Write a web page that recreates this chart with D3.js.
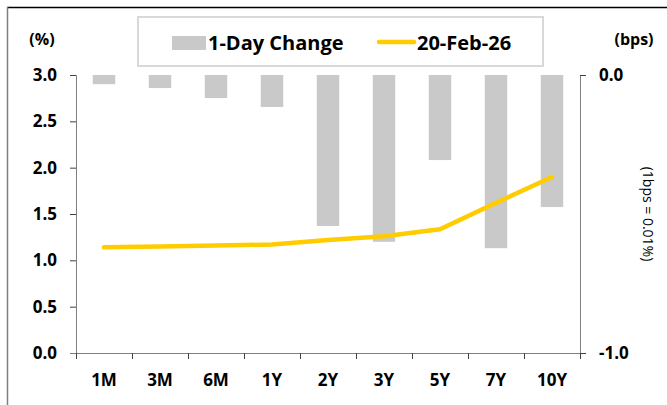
<!DOCTYPE html>
<html>
<head>
<meta charset="utf-8">
<script src="https://cdn.jsdelivr.net/npm/d3@7"></script>
<style>
  body { margin: 0; background: #fff; }
  text { font-family: "Open Sans", Lato, sans-serif; }
</style>
</head>
<body>
<div id="chart"></div>
<script>
// tenors on the x axis
var tenors = ["1M", "3M", "6M", "1Y", "2Y", "3Y", "5Y", "7Y", "10Y"];
// 1-day change, bps (right axis)
var dayChange = [-0.033, -0.047, -0.083, -0.115, -0.543, -0.60, -0.306, -0.623, -0.475];
// yield on 20-Feb-26, % (left axis)
var yields = [1.14, 1.15, 1.16, 1.17, 1.22, 1.26, 1.335, 1.62, 1.90];
var leftTicks = [0, 0.5, 1, 1.5, 2, 2.5, 3];
var rightTicks = [-1, 0];

var width = 667, height = 405;
var plot = {left: 76, right: 580, top: 75, bottom: 353};

var svg = d3.select("#chart").append("svg")
  .attr("width", width)
  .attr("height", height);

// outer frame (top and left edges only visible)
svg.append("line").attr("x1", 7).attr("x2", width).attr("y1", 7.5).attr("y2", 7.5)
  .attr("stroke", "#000").attr("stroke-width", 1.5);
svg.append("line").attr("x1", 7.5).attr("x2", 7.5).attr("y1", 7).attr("y2", height)
  .attr("stroke", "#808080").attr("stroke-width", 1.5);

var x = d3.scaleBand().domain(tenors).range([plot.left, plot.right])
  .paddingInner(0.6).paddingOuter(0.3);
var xTicks = d3.scaleLinear().domain([0, tenors.length]).range([plot.left, plot.right]);
var yL = d3.scaleLinear().domain([0, 3]).range([plot.bottom, plot.top]);
var yR = d3.scaleLinear().domain([-1, 0]).range([plot.bottom, plot.top]);

var fmt = function(d) { return d.toFixed(1); };

// bars: 1-day change (hang down from 0 on the right axis)
svg.append("g").selectAll("rect")
  .data(dayChange)
  .enter().append("rect")
  .attr("x", function(d, i) { return x(tenors[i]); })
  .attr("width", x.bandwidth())
  .attr("y", yR(0))
  .attr("height", function(d) { return yR(d) - yR(0); })
  .attr("fill", "#c9c9c9");

// line: yield curve
var line = d3.line()
  .x(function(d, i) { return x(tenors[i]) + x.bandwidth() / 2; })
  .y(function(d) { return yL(d); });

svg.append("path")
  .datum(yields)
  .attr("fill", "none")
  .attr("stroke", "#ffcc00")
  .attr("stroke-width", 4.5)
  .attr("stroke-linecap", "round")
  .attr("stroke-linejoin", "round")
  .attr("d", line);

// left axis
var gL = svg.append("g")
  .attr("transform", "translate(" + plot.left + ",0)")
  .call(d3.axisLeft(yL).tickValues(leftTicks).tickFormat(fmt).tickSize(6).tickPadding(13));

// right axis
var gR = svg.append("g")
  .attr("transform", "translate(" + plot.right + ",0)")
  .call(d3.axisRight(yR).tickValues(rightTicks).tickFormat(fmt).tickSize(6).tickPadding(13));

// bottom axis: ticks between categories
var gB = svg.append("g")
  .attr("transform", "translate(0," + plot.bottom + ")")
  .call(d3.axisBottom(xTicks).ticks(tenors.length).tickFormat("").tickSize(6));
gB.select(".domain").attr("d", "M" + (plot.left - 6) + ",0.5H" + plot.right);

var gBL = svg.append("g")
  .attr("transform", "translate(0," + plot.bottom + ")")
  .call(d3.axisBottom(x).tickSize(0).tickPadding(21));
gBL.select(".domain").remove();

[gL, gR, gB, gBL].forEach(function(g) {
  g.selectAll(".domain").attr("stroke", "#808080");
  g.selectAll(".tick line").attr("stroke", "#404040");
  g.selectAll("text")
    .attr("fill", "#000")
    .style("font-size", "17px")
    .style("font-weight", "bold");
});

// unit labels
svg.append("text").attr("x", 42).attr("y", 45).attr("text-anchor", "middle")
  .style("font-size", "16px").style("font-weight", "bold").text("(%)");
svg.append("text").attr("x", 634).attr("y", 45).attr("text-anchor", "middle")
  .style("font-size", "16px").style("font-weight", "bold").text("(bps)");
svg.append("text")
  .attr("transform", "translate(643," + ((plot.top + plot.bottom) / 2) + ") rotate(90)")
  .attr("text-anchor", "middle")
  .style("font-size", "14px")
  .text("(1bps = 0.01%)");

// legend
var legend = svg.append("g");
legend.append("rect").attr("x", 138).attr("y", 17).attr("width", 405).attr("height", 49)
  .attr("fill", "#fff").attr("stroke", "#d9d9d9").attr("stroke-width", 2);
legend.append("rect").attr("x", 172).attr("y", 36).attr("width", 34).attr("height", 14)
  .attr("fill", "#c9c9c9");
legend.append("text").attr("x", 208).attr("y", 50)
  .style("font-size", "20px").style("font-weight", "bold").text("1-Day Change");
legend.append("line").attr("x1", 379).attr("x2", 414).attr("y1", 42).attr("y2", 42)
  .attr("stroke", "#ffcc00").attr("stroke-width", 4.5).attr("stroke-linecap", "round");
legend.append("text").attr("x", 417).attr("y", 50)
  .style("font-size", "20px").style("font-weight", "bold").text("20-Feb-26");
</script>
</body>
</html>
